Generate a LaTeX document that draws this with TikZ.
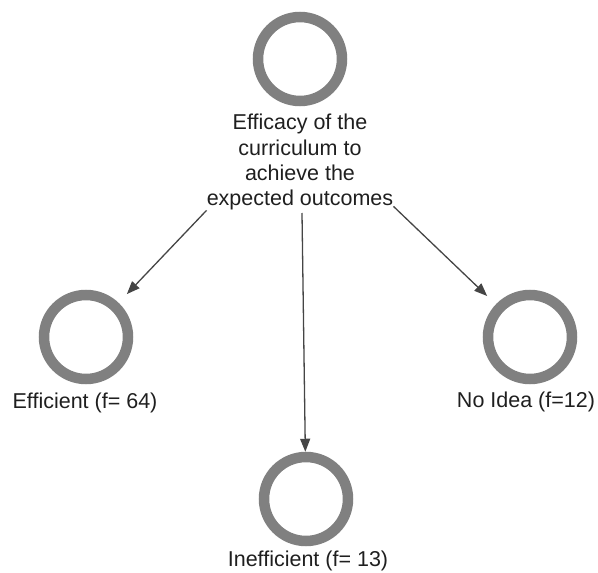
\documentclass[tikz,border=0pt]{standalone}
\usepackage{fontspec}
\setmainfont{Liberation Sans}
\usetikzlibrary{arrows.meta}
\definecolor{ringgray}{HTML}{808080}
\definecolor{arrowgray}{HTML}{454545}
\tikzset{
  ring/.style={circle, draw=ringgray, line width=10.5pt, minimum size=84pt, inner sep=0pt},
  lbl/.style={font=\fontsize{21.5}{25.3}\selectfont, text=black!88, inner sep=0pt, align=center},
  conn/.style={draw=arrowgray, line width=1.3pt, -{Triangle[length=13pt,width=10pt]}}
}
\begin{document}
\begin{tikzpicture}[x=1pt,y=-1pt]
\useasboundingbox (0,0) rectangle (598,573);
\node[ring] (top) at (300,59) {};
\node[lbl, anchor=north] (q) at (300,114) {Efficacy of the\\curriculum to\\achieve the\\expected outcomes};
\node[ring] (eff) at (86,337) {};
\node[lbl] (efflbl) at (85,403) {Efficient (f= 64)};
\node[ring] (noi) at (530,337) {};
\node[lbl] (noilbl) at (526,402) {No Idea (f=12)};
\node[ring] (ineff) at (306,499) {};
\node[lbl] (inefflbl) at (308,561) {Inefficient (f= 13)};
\coordinate (qm) at (302,213);
\draw[conn, shorten >=12pt] (q.south west) -- (eff);
\draw[conn, shorten >=12pt] ([yshift=4pt]q.south east) -- (noi);
\draw[conn] (qm) -- (ineff);
\end{tikzpicture}
\end{document}
